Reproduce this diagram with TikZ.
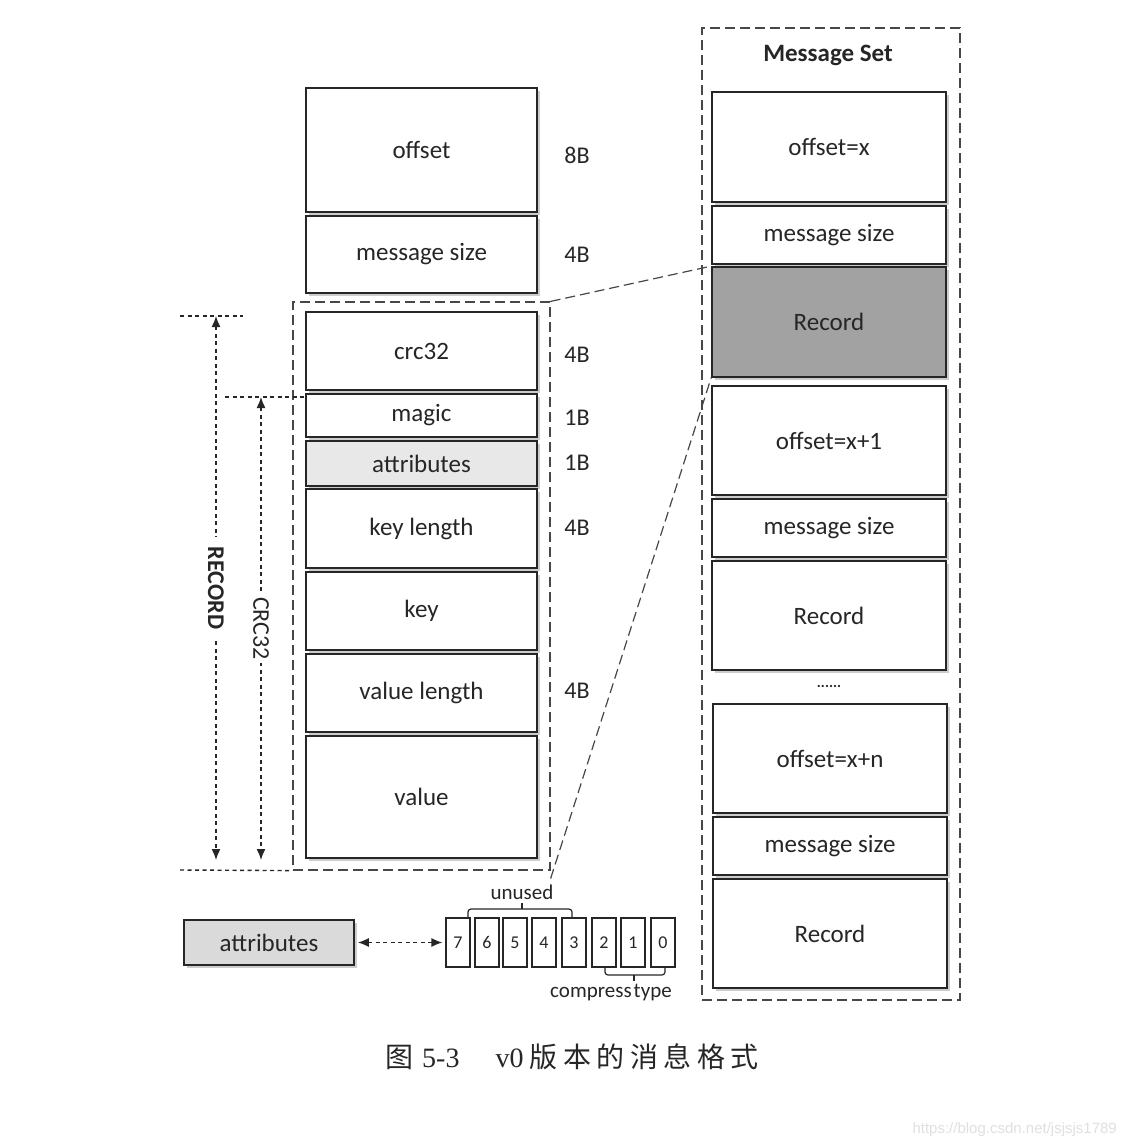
\documentclass[tikz,border=0pt]{standalone}
\usepackage{fontspec}
\setmainfont{Carlito}
\newfontfamily\cjkfont{Noto Sans CJK SC}
\newfontfamily\capfont{Liberation Serif}
\newfontfamily\wmfont{Liberation Sans}
\usetikzlibrary{shadows,arrows.meta}
\definecolor{inkc}{HTML}{262626}
\definecolor{recgray}{HTML}{A2A2A2}
\definecolor{attrgray}{HTML}{E8E8E8}
\definecolor{attrgrayb}{HTML}{DADADA}
\begin{document}
\begin{tikzpicture}[x=1pt,y=-1pt,
  ink/.style={draw=inkc, line width=1.7pt},
  fieldbox/.style={ink, fill=white, text=inkc, font=\fontsize{25}{30}\selectfont,
    drop shadow={shadow xshift=2.5pt, shadow yshift=-2.5pt, opacity=0.4},
    inner sep=0pt, minimum width=231pt},
  setbox/.style={fieldbox, minimum width=234pt},
  grpbox/.style={draw=inkc!85, line width=1.2pt, dash pattern=on 10pt off 5pt, inner sep=0pt},
  grpline/.style={draw=inkc!85, line width=1.2pt, dash pattern=on 10pt off 5pt},
  sizelbl/.style={font=\fontsize{24}{28}\selectfont, text=inkc},
  dim/.style={draw=inkc, line width=1.4pt, dash pattern=on 4pt off 3.5pt},
  dimarr/.style={dim, {Latex[length=11pt,width=9pt]}-{Latex[length=11pt,width=9pt]}},
  bitbox/.style={draw=inkc, line width=1.2pt, fill=white, minimum width=24pt,
    minimum height=49pt, inner sep=0pt, text=inkc, font=\fontsize{18}{20}\selectfont},
  brace/.style={draw=inkc, line width=1.2pt, rounded corners=3pt},
  smalllbl/.style={text=inkc, font=\fontsize{21}{24}\selectfont},
  ]
\useasboundingbox[fill=white] (0,0) rectangle (1126,1148);

% ---------- group frames ----------
\node[grpbox, minimum width=257pt, minimum height=568pt] (grpL) at (421.5,586) {};
\node[grpbox, minimum width=258pt, minimum height=972pt] (grpR) at (831,514) {};

% ---------- left column ----------
\node[fieldbox, minimum height=124pt] (offset) at (421.5,150) {offset};
\node[fieldbox, minimum height=77pt] (msize) at (421.5,254.5) {message size};
\node[fieldbox, minimum height=78pt] (crc) at (421.5,351) {crc32};
\node[fieldbox, minimum height=43pt] (magic) at (421.5,415.5) {magic};
\node[fieldbox, minimum height=45pt, fill=attrgray] (attr) at (421.5,463.5) {attributes};
\node[fieldbox, minimum height=79pt] (keylen) at (421.5,528.5) {key length};
\node[fieldbox, minimum height=78pt] (key) at (421.5,611) {key};
\node[fieldbox, minimum height=78pt] (vallen) at (421.5,693) {value length};
\node[fieldbox, minimum height=122pt] (value) at (421.5,797) {value};

% sizes
\node[sizelbl] (s1) at (577,155) {8B};
\node[sizelbl] (s2) at (577,255) {4B};
\node[sizelbl] (s3) at (577,355) {4B};
\node[sizelbl] (s4) at (577,418) {1B};
\node[sizelbl] (s5) at (577,463) {1B};
\node[sizelbl] (s6) at (577,528) {4B};
\node[sizelbl] (s7) at (577,691) {4B};

% ---------- right column ----------
\node[font=\bfseries\fontsize{25}{30}\selectfont, text=inkc] (title) at (828,55) {Message Set};
\node[setbox, minimum height=110pt] (ofx) at (829,147) {offset=x};
\node[setbox, minimum height=58pt] (ms1) at (829,235) {message size};
\node[setbox, minimum height=110pt, fill=recgray] (rec1) at (829,322) {Record};
\node[setbox, minimum height=109pt] (ofx1) at (829,440.5) {offset=x+1};
\node[setbox, minimum height=58pt] (ms2) at (829,528) {message size};
\node[setbox, minimum height=109pt] (rec2) at (829,615.5) {Record};
\node[text=inkc, font=\bfseries\fontsize{15}{16}\selectfont] (dots) at (829,686) {......};
\node[setbox, minimum height=109pt] (ofxn) at (830,758.5) {offset=x+n};
\node[setbox, minimum height=58pt] (ms3) at (830,846) {message size};
\node[setbox, minimum height=109pt] (rec3) at (830,933.5) {Record};

% zoom lines
\draw[grpline] (grpL.north east) -- (rec1.north west);
\draw[grpline] ([yshift=-8pt]grpL.south east) -- (rec1.south west);

% ---------- dimension arrows ----------
\coordinate (recA) at (180,316);
\coordinate (recB) at (243,316);
\coordinate (recT) at (216,316);
\coordinate (recD) at (216,860);
\coordinate (crcA) at (225,397);
\coordinate (crcT) at (261,397);
\coordinate (crcD) at (261,860);
\coordinate (botA) at (180,870);
\draw[dim] (recA) -- (recB);
\draw[dim] (crcA) -- (crc.south west |- crcA);
\draw[dim] (botA) -- (grpL.south west);
\draw[dimarr] (recT) -- node[fill=white, rotate=-90, inner xsep=10pt, text=inkc,
  font=\bfseries\fontsize{24}{28}\selectfont] (reclbl) {RECORD} (recD);
\draw[dimarr] (crcT) -- node[fill=white, rotate=-90, inner xsep=3pt, text=inkc,
  font=\fontsize{24}{28}\selectfont] (crclbl) {CRC32} (crcD);

% ---------- attributes bits ----------
\node[fieldbox, minimum width=170pt, minimum height=45pt, fill=attrgrayb] (attrB) at (269,942.5) {attributes};
\node[bitbox] (b7) at (458,942.5) {7};
\node[bitbox] (b6) at (487,942.5) {6};
\node[bitbox] (b5) at (515,942.5) {5};
\node[bitbox] (b4) at (544,942.5) {4};
\node[bitbox] (b3) at (574,942.5) {3};
\node[bitbox] (b2) at (604,942.5) {2};
\node[bitbox] (b1) at (633,942.5) {1};
\node[bitbox] (b0) at (663,942.5) {0};
\draw[dimarr, shorten <=3pt, shorten >=3pt] (attrB.east) -- (b7.west);

\draw[brace] (468,918) -- (468,909) -- (572,909) -- (572,918);
\draw[draw=inkc, line width=1.2pt] (522,909) -- (522,903);
\node[smalllbl] (unused) at (522,892) {unused};
\draw[brace] (605,967) -- (605,975) -- (665,975) -- (665,967);
\draw[draw=inkc, line width=1.2pt] (634,975) -- (634,981);
\node[smalllbl] (ctype) at (611,993) {compress\hspace{2pt}type};

% ---------- caption ----------
\node[anchor=west, text=inkc, font=\fontsize{28}{30}\selectfont, inner sep=0pt] (caption) at (385,1057)
  {{\cjkfont 图}\hspace{9pt}{\capfont 5-3}\hspace{36pt}{\capfont v0}\hspace{6pt}{\cjkfont 版\hspace{5.5pt}本\hspace{5.5pt}的\hspace{5.5pt}消\hspace{5.5pt}息\hspace{5.5pt}格\hspace{5.5pt}式}};

% watermark
\node[anchor=east, text=black!12, font=\wmfont\fontsize{15}{18}\selectfont, inner sep=0pt] (wm) at (1117,1130) {https://blog.csdn.net/jsjsjs1789};
\end{tikzpicture}
\end{document}
